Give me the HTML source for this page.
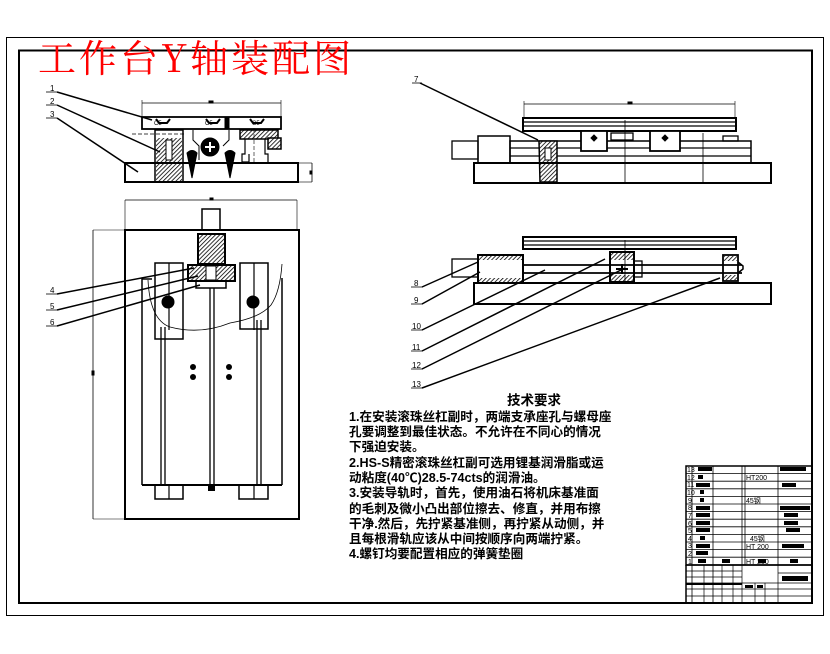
<!DOCTYPE html>
<html><head><meta charset="utf-8"><style>
html,body{margin:0;padding:0;background:#fff;}
svg{display:block;}
</style></head><body>
<svg width="830" height="654" viewBox="0 0 830 654" xmlns="http://www.w3.org/2000/svg">
<defs>
<pattern id="h" width="3" height="3" patternUnits="userSpaceOnUse" patternTransform="rotate(45)">
<rect width="3" height="3" fill="#fff"/><line x1="0" y1="0" x2="0" y2="3" stroke="#000" stroke-width="1.6"/></pattern>
</defs>
<rect width="830" height="654" fill="#fff"/>
<rect x="6.5" y="37.5" width="817" height="578" fill="none" stroke="#000" stroke-width="1"/>
<rect x="19" y="50.5" width="793" height="552.5" fill="none" stroke="#000" stroke-width="2"/>

<text x="38" y="72" font-family="'Noto Serif CJK SC','Liberation Serif',serif" font-size="38" fill="#ff0000" letter-spacing="3">工作台Y轴装配图</text>

<g stroke="#000" fill="none">
<line x1="142" y1="103" x2="281" y2="103" stroke-width="0.8"/>
<line x1="142" y1="100" x2="142" y2="117" stroke-width="0.6"/>
<line x1="281" y1="100" x2="281" y2="117" stroke-width="0.6"/>
<rect x="209" y="101" width="4" height="2" fill="#000"/>
<rect x="142" y="117" width="139" height="12" stroke-width="1.8"/>
<path d="M156 119 l3 4 h8 l3-4 M206 119 l3 4 h8 l3-4 M250 119 l3 4 h8 l3-4" stroke-width="2"/>
<rect x="225" y="118" width="4" height="11" fill="#000"/>
<line x1="132" y1="134" x2="186" y2="134" stroke-width="0.8" stroke-dasharray="4 2"/>
<rect x="155" y="130" width="28" height="52" stroke-width="1.5"/>
<rect x="156" y="138" width="26" height="43" fill="url(#h)" stroke="none"/>
<rect x="166" y="140" width="6" height="20" fill="#fff" stroke-width="1"/>
<path d="M193 130 v10 l6 6 v14 M229 130 v10 l-6 6" stroke-width="1"/>
<circle cx="210" cy="147" r="9" fill="#000"/>
<path d="M205 147 h10 M210 142 v10" stroke="#fff" stroke-width="2"/>
<path d="M187 153 q5-5 10 0 l-5 25 z M225 153 q5-5 10 0 l-5 25 z" fill="#000"/>
<rect x="240" y="130" width="38" height="9" stroke-width="1.5" fill="url(#h)"/>
<rect x="268" y="138" width="13" height="11" stroke-width="1.5" fill="url(#h)"/>
<path d="M245 139 v15 h-3 v8 h7 v-8 M265 139 v15 h3 v8" stroke-width="1.2"/>
<line x1="254" y1="128" x2="254" y2="162" stroke-width="0.6" stroke-dasharray="4 2"/>
<rect x="125" y="163" width="173" height="19" stroke-width="2"/>
<line x1="298" y1="163" x2="312" y2="163" stroke-width="0.6"/>
<line x1="298" y1="182" x2="312" y2="182" stroke-width="0.6"/>
<line x1="312" y1="163" x2="312" y2="182" stroke-width="0.8"/>
<rect x="310" y="171" width="2" height="3" fill="#000"/>
<g stroke-width="1.5">
<line x1="57" y1="92" x2="152" y2="120"/>
<line x1="57" y1="105" x2="160" y2="152"/>
<line x1="57" y1="118" x2="138" y2="172"/>
</g>
<g stroke-width="0.8"><line x1="46" y1="92" x2="57" y2="92"/><line x1="46" y1="105" x2="57" y2="105"/><line x1="46" y1="118" x2="57" y2="118"/></g>

<line x1="125" y1="200" x2="297" y2="200" stroke-width="0.8"/>
<line x1="125" y1="200" x2="125" y2="230" stroke-width="0.6"/>
<line x1="297" y1="200" x2="297" y2="230" stroke-width="0.6"/>
<rect x="210" y="198" width="3" height="2" fill="#000"/>
<line x1="93" y1="230" x2="125" y2="230" stroke-width="0.6"/>
<line x1="93" y1="519" x2="125" y2="519" stroke-width="0.6"/>
<line x1="93" y1="230" x2="93" y2="519" stroke-width="0.8"/>
<rect x="92" y="371" width="2" height="4" fill="#000"/>
<rect x="125" y="230" width="174" height="289" stroke-width="2"/>
<rect x="202" y="209" width="18" height="21" stroke-width="1.5"/>
<rect x="198" y="234" width="27" height="30" fill="url(#h)" stroke-width="2"/>
<rect x="188" y="265" width="47" height="16" fill="url(#h)" stroke-width="2"/>
<rect x="206" y="266" width="10" height="14" fill="#fff" stroke-width="1"/>
<rect x="196" y="281" width="30" height="7" stroke-width="1.5"/>
<path d="M142 485 V279 H152" stroke-width="1.5"/>
<path d="M282 485 V278" stroke-width="1.5"/>
<rect x="155" y="263" width="28" height="76" stroke-width="1.5"/>
<line x1="169" y1="263" x2="169" y2="330" stroke-width="1.2"/>
<rect x="240" y="263" width="28" height="66" stroke-width="1.5"/>
<line x1="254" y1="263" x2="254" y2="330" stroke-width="1.2"/>
<circle cx="168" cy="302" r="6" fill="#000"/>
<circle cx="253" cy="302" r="6" fill="#000"/>
<path d="M148 280 Q150 320 170 327 Q200 335 230 323 Q260 318 271 305 Q280 292 282 264" stroke-width="0.8"/>
<g stroke-width="1.3">
<line x1="161" y1="327" x2="161" y2="485"/><line x1="165" y1="327" x2="165" y2="485"/>
<line x1="210" y1="288" x2="210" y2="485"/><line x1="214" y1="288" x2="214" y2="485"/>
<line x1="257" y1="320" x2="257" y2="485"/><line x1="261" y1="320" x2="261" y2="485"/>
</g>
<line x1="142" y1="485" x2="282" y2="485" stroke-width="2"/>
<circle cx="193" cy="367" r="3" fill="#000" stroke="none"/><circle cx="193" cy="377" r="3" fill="#000" stroke="none"/>
<circle cx="229" cy="367" r="3" fill="#000" stroke="none"/><circle cx="229" cy="377" r="3" fill="#000" stroke="none"/>
<rect x="155" y="485" width="28" height="14" stroke-width="1.5"/><line x1="169" y1="485" x2="169" y2="499" stroke-width="1.2"/>
<rect x="239" y="485" width="29" height="14" stroke-width="1.5"/><line x1="254" y1="485" x2="254" y2="499" stroke-width="1.2"/>
<rect x="208" y="485" width="7" height="6" fill="#000" stroke="none"/>
<g stroke-width="1.5">
<line x1="57" y1="294" x2="194" y2="268"/>
<line x1="57" y1="310" x2="198" y2="276"/>
<line x1="57" y1="326" x2="200" y2="285"/>
</g>
<g stroke-width="0.8"><line x1="46" y1="294" x2="57" y2="294"/><line x1="46" y1="310" x2="57" y2="310"/><line x1="46" y1="326" x2="57" y2="326"/></g>

<line x1="420" y1="83" x2="538" y2="140" stroke-width="1.5"/>
<line x1="412" y1="83" x2="422" y2="83" stroke-width="0.8"/>
<line x1="524" y1="104" x2="735" y2="104" stroke-width="0.8"/>
<line x1="524" y1="101" x2="524" y2="118" stroke-width="0.6"/>
<line x1="735" y1="101" x2="735" y2="118" stroke-width="0.6"/>
<rect x="628" y="102" width="4" height="2" fill="#000"/>
<rect x="523" y="118" width="213" height="13" stroke-width="2"/>
<line x1="523" y1="122" x2="736" y2="122" stroke-width="1.2"/>
<line x1="523" y1="126" x2="736" y2="126" stroke-width="1.2"/>
<rect x="452" y="141" width="26" height="18" stroke-width="1.3"/>
<rect x="478" y="136" width="32" height="27" stroke-width="1.5"/>
<rect x="510" y="141" width="241" height="22" stroke-width="1.5"/>
<line x1="510" y1="148" x2="751" y2="148" stroke-width="1.2"/>
<line x1="510" y1="156" x2="751" y2="156" stroke-width="1.2"/>
<rect x="581" y="131" width="26" height="20" fill="#fff" stroke-width="1.8"/>
<rect x="650" y="131" width="30" height="20" fill="#fff" stroke-width="1.8"/>
<rect x="611" y="133" width="22" height="7" stroke-width="1.3"/>
<path d="M594 135 l3 3 -3 3 -3-3z M665 135 l3 3 -3 3 -3-3z" fill="#000"/>
<rect x="723" y="136" width="15" height="5" stroke-width="1.3"/>
<path d="M539 141 L557 141 L557 182 L540 182 Z" fill="url(#h)" stroke-width="1.5"/>
<rect x="545" y="148" width="6" height="12" fill="#fff" stroke-width="1"/>
<rect x="474" y="163" width="297" height="20" stroke-width="2"/>
<line x1="625" y1="120" x2="625" y2="183" stroke-width="0.8"/>
<line x1="703" y1="133" x2="703" y2="183" stroke-width="0.8"/>

<rect x="523" y="237" width="213" height="12" stroke-width="2"/>
<line x1="523" y1="241" x2="736" y2="241" stroke-width="1.2"/>
<line x1="523" y1="245" x2="736" y2="245" stroke-width="1.2"/>
<rect x="452" y="259" width="26" height="18" stroke-width="1.3"/>
<rect x="478" y="255" width="45" height="28" stroke-width="2"/>
<rect x="479" y="256" width="43" height="4" fill="url(#h)" stroke="none"/>
<rect x="479" y="278" width="43" height="4" fill="url(#h)" stroke="none"/>
<line x1="523" y1="265" x2="742" y2="265" stroke-width="1.8"/>
<line x1="523" y1="273" x2="742" y2="273" stroke-width="1.8"/>
<rect x="610" y="252" width="24" height="30" stroke-width="2"/>
<rect x="611" y="253" width="22" height="7" fill="url(#h)" stroke="none"/>
<rect x="611" y="275" width="22" height="6" fill="url(#h)" stroke="none"/>
<path d="M616 269 h12 M622 264 v10" stroke-width="2"/>
<rect x="634" y="261" width="8" height="16" stroke-width="1.3"/>
<line x1="625" y1="240" x2="625" y2="283" stroke-width="0.8"/>
<rect x="723" y="255" width="15" height="26" stroke-width="1.8"/>
<rect x="724" y="256" width="13" height="5" fill="url(#h)" stroke="none"/>
<rect x="724" y="275" width="13" height="5" fill="url(#h)" stroke="none"/>
<path d="M738 262 l5 4 v3 l-5 4" stroke-width="1.5"/>
<rect x="474" y="283" width="297" height="21" stroke-width="2"/>
<g stroke-width="1.5">
<line x1="422" y1="287" x2="478" y2="262"/>
<line x1="422" y1="304" x2="480" y2="272"/>
<line x1="422" y1="330" x2="545" y2="270"/>
<line x1="422" y1="351" x2="605" y2="259"/>
<line x1="422" y1="369" x2="625" y2="268"/>
<line x1="422" y1="388" x2="720" y2="278"/>
</g>
<g stroke-width="0.8">
<line x1="411" y1="287" x2="423" y2="287"/><line x1="411" y1="304" x2="423" y2="304"/>
<line x1="411" y1="330" x2="423" y2="330"/><line x1="411" y1="351" x2="423" y2="351"/>
<line x1="411" y1="369" x2="423" y2="369"/><line x1="411" y1="388" x2="423" y2="388"/>
</g>
</g>

<g font-family="'Liberation Sans',sans-serif" font-size="8" fill="#000">
<text x="50" y="91">1</text><text x="50" y="104">2</text><text x="50" y="117">3</text>
<text x="50" y="293">4</text><text x="50" y="309">5</text><text x="50" y="325">6</text>
<text x="414" y="82">7</text>
<text x="414" y="286">8</text><text x="414" y="303">9</text><text x="412" y="329">10</text>
<text x="412" y="350">11</text><text x="412" y="368">12</text><text x="412" y="387">13</text>
<text x="154" y="125" font-size="6">C5</text><text x="205" y="125" font-size="6">C5</text><text x="252" y="125" font-size="6">C5</text>
</g>

<g font-family="'Liberation Sans','Noto Sans CJK SC',sans-serif" font-size="12.6" font-weight="bold" fill="#000">
<text x="507" y="405" font-size="13.5">技术要求</text>
<text x="349" y="421">1.在安装滚珠丝杠副时，两端支承座孔与螺母座</text>
<text x="349" y="436">孔要调整到最佳状态。不允许在不同心的情况</text>
<text x="349" y="451">下强迫安装。</text>
<text x="349" y="467">2.HS-S精密滚珠丝杠副可选用锂基润滑脂或运</text>
<text x="349" y="482">动粘度(40℃)28.5-74cts的润滑油。</text>
<text x="349" y="497">3.安装导轨时，首先，使用油石将机床基准面</text>
<text x="349" y="513">的毛刺及微小凸出部位擦去、修直，并用布擦</text>
<text x="349" y="528">干净.然后，先拧紧基准侧，再拧紧从动侧，并</text>
<text x="349" y="543">且每根滑轨应该从中间按顺序向两端拧紧。</text>
<text x="349" y="558">4.螺钉均要配置相应的弹簧垫圈</text>
</g>

<g stroke="#000" fill="none">
<rect x="686" y="466" width="126" height="99" stroke-width="1.5"/>
<g stroke-width="0.8">
<line x1="686" y1="473.6" x2="812" y2="473.6"/><line x1="686" y1="481.2" x2="812" y2="481.2"/>
<line x1="686" y1="488.8" x2="812" y2="488.8"/><line x1="686" y1="496.4" x2="812" y2="496.4"/>
<line x1="686" y1="504" x2="812" y2="504"/><line x1="686" y1="511.6" x2="812" y2="511.6"/>
<line x1="686" y1="519.2" x2="812" y2="519.2"/><line x1="686" y1="526.8" x2="812" y2="526.8"/>
<line x1="686" y1="534.4" x2="812" y2="534.4"/><line x1="686" y1="542" x2="812" y2="542"/>
<line x1="686" y1="549.6" x2="812" y2="549.6"/><line x1="686" y1="557.2" x2="812" y2="557.2"/>
<line x1="692" y1="466" x2="692" y2="603"/><line x1="713" y1="466" x2="713" y2="603"/>
<line x1="742" y1="466" x2="742" y2="565"/><line x1="745" y1="466" x2="745" y2="565"/>
<line x1="778" y1="466" x2="778" y2="565"/>
</g>
<line x1="686" y1="565" x2="812" y2="565" stroke-width="1.5"/>
<line x1="686" y1="565" x2="686" y2="603" stroke-width="1.5"/>
<g stroke-width="0.7">
<line x1="686" y1="571" x2="742" y2="571"/><line x1="686" y1="577" x2="742" y2="577"/>
<line x1="686" y1="583" x2="812" y2="583"/><line x1="686" y1="589" x2="812" y2="589"/>
<line x1="686" y1="596" x2="812" y2="596"/>
<line x1="704" y1="565" x2="704" y2="603"/><line x1="722" y1="565" x2="722" y2="603"/><line x1="733" y1="565" x2="733" y2="603"/>
<line x1="742" y1="565" x2="742" y2="603"/><line x1="778" y1="565" x2="778" y2="603"/>
<line x1="778" y1="573" x2="812" y2="573"/>
<line x1="755" y1="583" x2="755" y2="603"/><line x1="765" y1="583" x2="765" y2="603"/>
</g>
</g>
<g fill="#000">
<rect x="698" y="467" width="14" height="4"/><rect x="698" y="475" width="5" height="4"/>
<rect x="696" y="483" width="14" height="4"/><rect x="700" y="490" width="4" height="4"/>
<rect x="700" y="498" width="4" height="4"/><rect x="696" y="506" width="14" height="4"/>
<rect x="696" y="513" width="14" height="4"/><rect x="696" y="521" width="14" height="4"/>
<rect x="696" y="528" width="14" height="4"/><rect x="700" y="536" width="5" height="4"/>
<rect x="696" y="544" width="14" height="4"/><rect x="696" y="551" width="12" height="4"/>
<rect x="698" y="559" width="8" height="4"/>
<rect x="780" y="467" width="26" height="4"/><rect x="782" y="483" width="14" height="4"/>
<rect x="780" y="506" width="30" height="4"/><rect x="784" y="513" width="14" height="4"/>
<rect x="784" y="521" width="14" height="4"/><rect x="786" y="528" width="14" height="4"/>
<rect x="782" y="544" width="22" height="4"/><rect x="790" y="559" width="8" height="4"/>
<rect x="722" y="559" width="8" height="4"/><rect x="758" y="559" width="8" height="4"/>
<rect x="782" y="576" width="26" height="5"/>
<rect x="686" y="583" width="56" height="2"/>
<rect x="745" y="585" width="8" height="3"/><rect x="757" y="585" width="6" height="3"/>
</g>
<g font-family="'Liberation Sans','Noto Sans CJK SC',sans-serif" font-size="7" fill="#000">
<text x="687" y="472">13</text><text x="687" y="480">12</text><text x="687" y="487">11</text>
<text x="687" y="495">10</text><text x="688" y="503">9</text><text x="688" y="510">8</text>
<text x="688" y="518">7</text><text x="688" y="526">6</text><text x="688" y="533">5</text>
<text x="688" y="541">4</text><text x="688" y="548">3</text><text x="688" y="556">2</text><text x="688" y="564">1</text>
<text x="746" y="480">HT200</text><text x="746" y="503">45钢</text><text x="750" y="541">45钢</text>
<text x="746" y="549">HT 200</text><text x="746" y="564">HT 250</text>
</g>
</svg>
</body></html>
